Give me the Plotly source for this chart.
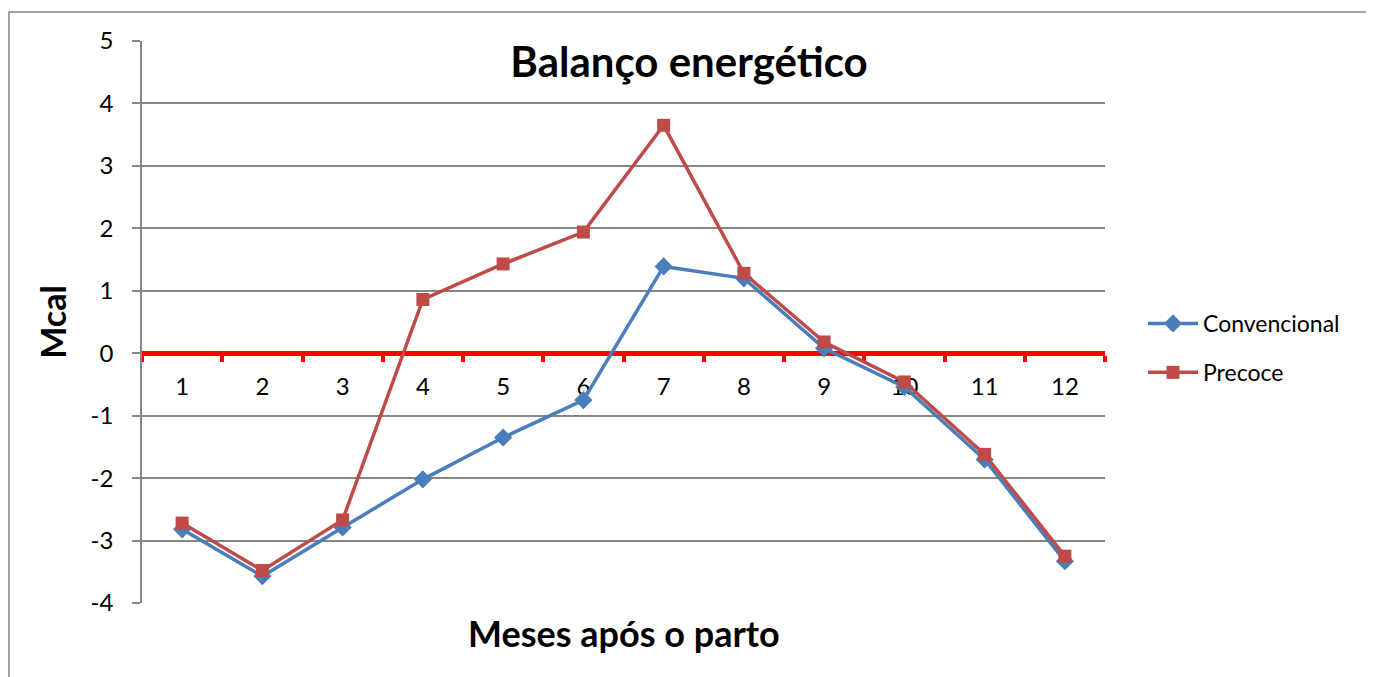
import plotly.graph_objects as go

meses = ["1", "2", "3", "4", "5", "6", "7", "8", "9", "10", "11", "12"]
convencional = [-2.82, -3.57, -2.79, -2.02, -1.35, -0.75, 1.39, 1.20, 0.08, -0.54, -1.70, -3.33]
precoce = [-2.72, -3.48, -2.67, 0.86, 1.43, 1.94, 3.65, 1.28, 0.18, -0.46, -1.62, -3.25]
y_ticks = [-4, -3, -2, -1, 0, 1, 2, 3, 4, 5]
y_labels = [str(v) for v in y_ticks]

FONT = "Lato"
OFF = 8  # page body margin
W, H = 1374, 677
L, R, T, B = 142 - OFF, 1105 - OFF, 41 - OFF, 603 - OFF

fig = go.Figure()
fig.add_trace(go.Scatter(
    x=meses, y=convencional, name="Convencional", mode="lines+markers",
    legendgroup="a",
    line=dict(color="#4A7EBB", width=3.5),
    marker=dict(symbol="diamond", size=14, color="#4A7EBB"),
))
fig.add_trace(go.Scatter(
    x=meses, y=precoce, name="Precoce", mode="lines+markers",
    legendgroup="b",
    line=dict(color="#BE4B48", width=3.5),
    marker=dict(symbol="square", size=13, color="#BE4B48"),
))

pw = R - L
ph = B - T

fig.update_layout(
    width=W, height=H,
    margin=dict(l=L, r=W - R, t=T, b=H - B, pad=0, autoexpand=False),
    paper_bgcolor="white", plot_bgcolor="white",
    font=dict(family=FONT, color="black", size=24),
    title=dict(text="<b>Balanço energético</b>", font=dict(size=42, family=FONT, color="black"),
               xref="container", x=(689 - OFF) / W, xanchor="center",
               yref="container", y=1 - (62 - OFF) / H, yanchor="middle"),
    showlegend=True,
    legend=dict(x=(1143 - OFF - L) / pw, xanchor="left", y=(B - (348 - OFF)) / ph, yanchor="middle",
                font=dict(size=23, family=FONT), itemwidth=50, traceorder="grouped",
                tracegroupgap=16, bgcolor="rgba(0,0,0,0)"),
    xaxis=dict(
        type="category", categoryorder="array", categoryarray=meses,
        range=[-0.5, 11.5], anchor="free", position=4 / 9,
        showline=True, linecolor="#FF0000", linewidth=5,
        ticks="outside", tickson="boundaries", ticklen=6, tickwidth=4, tickcolor="#FF0000",
        ticklabelstandoff=10, tickfont=dict(size=24, family=FONT),
        showgrid=False, zeroline=False, layer="below traces", automargin=False,
    ),
    yaxis=dict(
        range=[-4, 5], tickmode="array", tickvals=y_ticks, ticktext=y_labels,
        showline=True, linecolor="#868686", linewidth=1.5,
        ticks="outside", ticklen=8, tickcolor="#868686", tickwidth=1.5,
        showgrid=True, gridcolor="#868686", gridwidth=1.5,
        zeroline=False, tickfont=dict(size=24, family=FONT), automargin=False,
        ticklabelstandoff=14,
        title=dict(text="<b>Mcal</b>", font=dict(size=34, family=FONT), standoff=14),
    ),
    annotations=[
        dict(text="<b>Meses após o parto</b>", xref="paper", yref="paper",
             x=(624 - OFF - L) / pw, y=(B - (633 - OFF)) / ph, xanchor="center", yanchor="middle",
             showarrow=False, font=dict(size=36, family=FONT, color="black")),
    ],
    shapes=[
        dict(type="rect", xref="paper", yref="paper",
             x0=(9 - OFF - L) / pw, x1=(1367 - OFF - L) / pw,
             y0=(B - 720) / ph, y1=(B - (12 - OFF)) / ph,
             line=dict(color="#868686", width=1.5), fillcolor="rgba(0,0,0,0)", layer="below"),
    ],
)

fig.write_html("out.html")
